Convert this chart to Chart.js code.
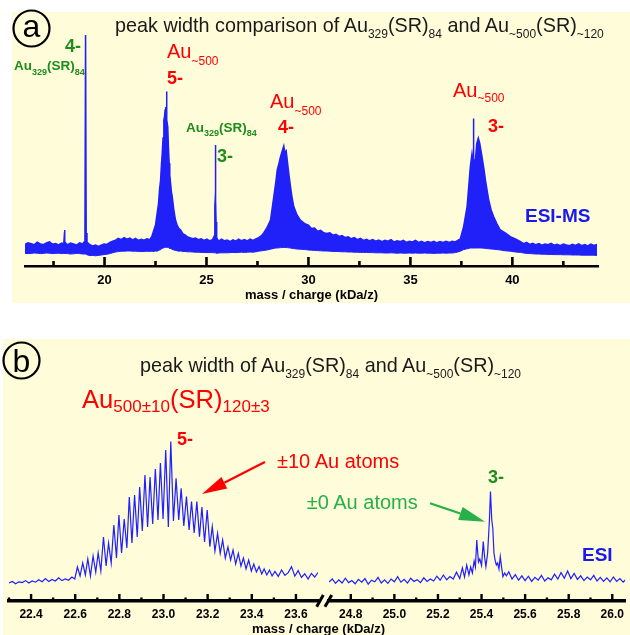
<!DOCTYPE html>
<html>
<head>
<meta charset="utf-8">
<script src="https://cdn.jsdelivr.net/npm/chart.js@4.4.1/dist/chart.umd.min.js"></script>
<style>
  html, body { margin: 0; padding: 0; background: #fff; }
  body { width: 630px; height: 635px; position: relative; overflow: hidden; font-family: "Liberation Sans", Arial, sans-serif; }
  .panel { position: absolute; background: #fffcd9; }
  canvas { position: absolute; }
  svg { position: absolute; left: 0; top: 0; font-family: "Liberation Sans", Arial, sans-serif; }
</style>
</head>
<body>
<div class="panel" style="left:12px;top:12px;width:618px;height:291px"></div>
<div class="panel" style="left:3px;top:339px;width:627px;height:296px"></div>
<canvas id="specA" width="618" height="291" style="left:12px;top:12px"></canvas>
<canvas id="specBL" width="322" height="296" style="left:0;top:339px"></canvas>
<canvas id="specBR" width="308" height="296" style="left:322px;top:339px"></canvas>

<svg width="630" height="635">
  <!-- panel a -->
  <circle cx="31.5" cy="28.5" r="18" fill="none" stroke="#000" stroke-width="2.2"/>
  <text x="31.5" y="37" font-size="32" text-anchor="middle">a</text>
  <text x="115" y="32.3" font-size="19.8" fill="#1a1a1a">peak width comparison of Au<tspan font-size="12" dy="6">329</tspan><tspan dy="-6">(SR)</tspan><tspan font-size="12" dy="6">84</tspan><tspan dy="-6"> and Au</tspan><tspan font-size="12" dy="6">~500</tspan><tspan dy="-6">(SR)</tspan><tspan font-size="12" dy="6">~120</tspan></text>

  <text x="65" y="51.7" font-size="18" font-weight="bold" fill="#1e8c1e">4-</text>
  <text x="14" y="70" font-size="13.5" font-weight="bold" fill="#1e8c1e">Au<tspan font-size="9" dy="4.5">329</tspan><tspan dy="-4.5">(SR)</tspan><tspan font-size="9" dy="4.5">84</tspan></text>

  <text x="167" y="58.3" font-size="20" fill="#ff0000">Au<tspan font-size="12" dy="6.5">~500</tspan></text>
  <text x="167" y="83.5" font-size="18" font-weight="bold" fill="#ff0000">5-</text>

  <text x="186" y="131.7" font-size="13.5" font-weight="bold" fill="#1e8c1e">Au<tspan font-size="9" dy="4.5">329</tspan><tspan dy="-4.5">(SR)</tspan><tspan font-size="9" dy="4.5">84</tspan></text>
  <text x="217" y="162" font-size="18" font-weight="bold" fill="#1e8c1e">3-</text>

  <text x="270" y="108.3" font-size="20" fill="#ff0000">Au<tspan font-size="12" dy="6.5">~500</tspan></text>
  <text x="278" y="133.3" font-size="18" font-weight="bold" fill="#ff0000">4-</text>

  <text x="453" y="96.7" font-size="20" fill="#ff0000">Au<tspan font-size="12" dy="5.5">~500</tspan></text>
  <text x="488" y="131.7" font-size="18" font-weight="bold" fill="#ff0000">3-</text>

  <text x="525" y="222" font-size="19" font-weight="bold" fill="#1a1aee">ESI-MS</text>

  <!-- panel b -->
  <circle cx="21.5" cy="360.5" r="18" fill="none" stroke="#000" stroke-width="2.2"/>
  <text x="21.5" y="371.5" font-size="32" text-anchor="middle">b</text>
  <text x="140" y="372.3" font-size="19.8" fill="#1a1a1a">peak width of Au<tspan font-size="12" dy="5.7">329</tspan><tspan dy="-5.7">(SR)</tspan><tspan font-size="12" dy="5.7">84</tspan><tspan dy="-5.7"> and Au</tspan><tspan font-size="12" dy="5.7">~500</tspan><tspan dy="-5.7">(SR)</tspan><tspan font-size="12" dy="5.7">~120</tspan></text>

  <text x="82" y="408.3" font-size="25.6" fill="#ff0000">Au<tspan font-size="17" dy="3.4">500±10</tspan><tspan dy="-3.4">(SR)</tspan><tspan font-size="17" dy="3.4">120±3</tspan></text>
  <text x="177" y="445" font-size="18" font-weight="bold" fill="#ff0000">5-</text>

  <text x="277" y="468.3" font-size="20" fill="#ff0000">±10 Au atoms</text>
  <line x1="265" y1="462" x2="224.3" y2="482.7" stroke="#ff0000" stroke-width="2.2"/>
  <polygon points="202,494 227.2,488.5 221.4,476.9" fill="#ff0000"/>

  <text x="306.7" y="509.3" font-size="20" fill="#27b04a">±0 Au atoms</text>
  <line x1="430" y1="503.3" x2="460.4" y2="513.5" stroke="#27b04a" stroke-width="2.2"/>
  <polygon points="485,521.7 458.2,520.1 462.6,506.9" fill="#27b04a"/>

  <text x="488" y="483" font-size="18" font-weight="bold" fill="#1e8c1e">3-</text>
  <text x="582" y="561" font-size="19" font-weight="bold" fill="#1a1aee">ESI</text>

  <line x1="316.7" y1="606.7" x2="323.3" y2="595" stroke="#000" stroke-width="3"/>
  <line x1="325" y1="606.7" x2="331.7" y2="595" stroke="#000" stroke-width="3"/>
  <text x="318.5" y="633" font-size="13" font-weight="bold" text-anchor="middle">mass / charge (kDa/z)</text>
</svg>

<script>
// panel a: ESI-MS survey spectrum; the dense noisy trace is drawn as a band (lower / upper edge)
const massA = [16.10, 16.25, 16.40, 16.55, 16.70, 16.85, 17.00, 17.15, 17.30, 17.45, 17.60, 17.75, 17.90, 18.00, 18.02,
  18.04, 18.06, 18.18, 18.33, 18.48, 18.63, 18.78, 18.92, 19.00, 19.04, 19.07, 19.10, 19.14, 19.28, 19.42,
  19.56, 19.70, 19.84, 19.98, 20.12, 20.26, 20.40, 20.54, 20.68, 20.82, 20.96, 21.10, 21.24, 21.38, 21.52,
  21.66, 21.80, 21.94, 22.08, 22.22, 22.32, 22.42, 22.50, 22.58, 22.65, 22.70, 22.75, 22.79, 22.83, 22.87,
  22.91, 22.94, 22.97, 23.00, 23.02, 23.04, 23.06, 23.10, 23.13, 23.17, 23.20, 23.24, 23.28, 23.32, 23.40,
  23.48, 23.56, 23.64, 23.73, 23.85, 23.95, 24.05, 24.18, 24.32, 24.46, 24.60, 24.74, 24.88, 25.02, 25.16,
  25.30, 25.38, 25.41, 25.43, 25.44, 25.45, 25.47, 25.50, 25.60, 25.74, 25.88, 26.02, 26.16, 26.30, 26.44,
  26.58, 26.72, 26.86, 27.00, 27.14, 27.28, 27.42, 27.56, 27.70, 27.82, 27.96, 28.14, 28.30, 28.40, 28.47,
  28.56, 28.63, 28.70, 28.79, 28.85, 28.91, 28.96, 29.04, 29.12, 29.20, 29.28, 29.44, 29.60, 29.85, 30.00,
  30.15, 30.30, 30.45, 30.60, 30.75, 30.90, 31.05, 31.20, 31.35, 31.50, 31.65, 31.80, 31.95, 32.10, 32.25,
  32.40, 32.55, 32.70, 32.85, 33.00, 33.15, 33.30, 33.45, 33.60, 33.75, 33.90, 34.05, 34.20, 34.35, 34.50,
  34.65, 34.80, 34.95, 35.10, 35.25, 35.40, 35.55, 35.70, 35.85, 36.00, 36.15, 36.30, 36.45, 36.60, 36.75,
  36.90, 37.05, 37.20, 37.32, 37.45, 37.61, 37.78, 37.94, 38.02, 38.07, 38.09, 38.11, 38.19, 38.25, 38.33,
  38.40, 38.51, 38.60, 38.68, 38.76, 38.84, 38.96, 39.08, 39.25, 39.41, 39.65, 39.90, 40.15, 40.40, 40.55,
  40.70, 40.85, 41.00, 41.15, 41.30, 41.45, 41.60, 41.75, 41.90, 42.05, 42.20, 42.35, 42.50, 42.65, 42.80,
  42.95, 43.10, 43.25, 43.40, 43.55, 43.70, 43.85, 44.00, 44.15];
const lowerA = [6.3, 6.2, 6.3, 6.5, 6.4, 6.2, 6.3, 6.5, 6.4, 6.2, 6.3, 6.4, 6.2, 6.3, 6.3,
  6.3, 6.3, 6.2, 6.0, 6.1, 6.3, 6.2, 6.0, 6.0, 6.0, 6.0, 6.0, 5.6, 5.2, 5.3,
  5.1, 5.3, 5.5, 5.7, 5.9, 6.2, 6.6, 7.0, 7.2, 7.4, 7.4, 7.5, 7.5, 7.4, 7.4,
  7.3, 7.2, 7.3, 7.4, 7.3, 7.4, 7.3, 7.5, 7.4, 7.8, 8.0, 8.2, 8.5, 8.8, 9.0,
  9.2, 9.3, 9.3, 9.4, 9.4, 9.4, 9.4, 9.3, 9.2, 9.0, 8.8, 8.7, 8.5, 8.3, 8.0,
  7.8, 7.6, 7.4, 7.5, 7.3, 7.3, 7.1, 7.1, 7.0, 6.9, 6.9, 6.8, 6.8, 6.7, 6.7,
  6.7, 6.6, 6.6, 6.6, 6.6, 6.6, 6.5, 6.4, 6.5, 6.6, 6.6, 6.6, 6.7, 6.8, 6.7,
  6.8, 6.9, 6.8, 6.9, 7.0, 6.9, 7.1, 7.4, 7.6, 7.8, 8.0, 8.4, 8.8, 9.0, 9.0,
  9.1, 9.2, 9.2, 9.3, 9.3, 9.2, 9.2, 9.1, 9.0, 8.8, 8.7, 8.5, 8.4, 8.2, 8.0,
  7.9, 7.8, 7.7, 7.6, 7.5, 7.5, 7.4, 7.3, 7.3, 7.2, 7.1, 7.1, 7.0, 7.0, 6.9,
  6.9, 6.8, 6.8, 6.8, 6.7, 6.7, 6.6, 6.6, 6.6, 6.5, 6.5, 6.6, 6.5, 6.4, 6.5,
  6.4, 6.4, 6.5, 6.4, 6.5, 6.4, 6.4, 6.5, 6.4, 6.4, 6.3, 6.4, 6.4, 6.5, 6.4,
  6.5, 6.5, 6.7, 7.0, 7.4, 8.2, 8.6, 9.0, 9.0, 9.0, 9.0, 9.0, 9.0, 9.0, 9.0,
  9.0, 9.0, 8.9, 8.8, 8.7, 8.6, 8.5, 8.4, 8.2, 8.0, 7.6, 7.4, 7.0, 6.8, 6.5,
  6.3, 6.2, 6.1, 6.0, 6.0, 5.9, 5.9, 5.8, 5.8, 5.7, 5.7, 5.7, 5.6, 5.6, 5.6,
  5.5, 5.5, 5.5, 5.4, 5.4, 5.4, 5.4, 5.4, 5.3];
const upperA = [10.8, 11.6, 11.2, 10.6, 11.9, 11.0, 10.7, 11.5, 12.1, 10.9, 11.2, 10.5, 11.4, 11.0, 14.0,
  18.0, 12.0, 10.6, 11.5, 11.0, 10.5, 11.6, 11.0, 12.0, 17.0, 115.5, 16.5, 12.0, 10.6, 10.0,
  10.5, 9.8, 10.4, 11.0, 10.8, 11.8, 12.4, 12.9, 13.8, 13.2, 14.2, 13.4, 13.9, 13.0, 13.8,
  12.8, 13.4, 12.9, 13.6, 13.2, 14.8, 18.0, 20.5, 26.3, 31.5, 38.5, 43.0, 50.5, 56.4, 64.0,
  73.0, 74.5, 78.0, 79.5, 76.0, 87.2, 73.0, 69.7, 60.5, 51.4, 45.5, 41.4, 37.0, 34.7, 28.0,
  23.0, 20.5, 18.8, 18.0, 16.0, 15.6, 14.7, 14.2, 13.6, 14.0, 13.2, 13.6, 12.8, 13.4, 12.6,
  13.2, 15.0, 30.0, 34.0, 60.5, 33.0, 22.0, 14.0, 12.4, 13.4, 12.6, 13.0, 12.2, 13.1, 12.4,
  13.4, 12.6, 13.2, 12.5, 13.4, 12.8, 13.6, 14.2, 15.2, 16.8, 19.0, 23.0, 34.6, 42.0, 48.0,
  51.5, 54.6, 57.0, 60.0, 56.5, 57.5, 53.0, 46.0, 39.7, 34.0, 29.7, 25.5, 23.0, 21.0, 20.4,
  18.8, 19.0, 17.4, 17.8, 16.6, 16.2, 16.6, 15.4, 15.8, 14.8, 15.2, 14.2, 14.6, 13.6, 14.2,
  13.2, 13.8, 12.8, 13.4, 12.6, 13.2, 12.4, 13.0, 12.2, 12.8, 12.4, 13.2, 12.0, 12.6, 12.2,
  12.8, 11.8, 12.4, 12.0, 12.8, 11.8, 12.4, 11.6, 12.2, 11.8, 12.4, 11.6, 12.2, 11.8, 12.4,
  11.8, 12.4, 12.0, 12.8, 13.6, 19.7, 29.7, 49.7, 56.0, 52.0, 73.8, 53.0, 53.0, 61.0, 64.0,
  61.4, 54.7, 49.0, 43.0, 38.0, 33.0, 28.0, 24.7, 21.0, 18.0, 16.5, 14.7, 13.5, 12.2, 11.2,
  11.8, 10.8, 11.4, 10.6, 11.2, 10.4, 11.0, 10.6, 11.3, 10.4, 10.9, 10.2, 11.0, 10.5, 10.1,
  10.8, 10.3, 11.1, 10.2, 10.7, 10.0, 10.9, 10.3, 10.8];
const ticksA = [17.5, 20, 22.5, 25, 27.5, 30, 32.5, 35, 37.5, 40, 42.5];
const labelledA = [20, 25, 30, 35, 40];

// panel b: zoom on the 5- (left) and 3- (right) peaks
const massBL = [22.300, 22.315, 22.330, 22.345, 22.360, 22.375, 22.390, 22.405, 22.420, 22.435, 22.450, 22.465,
  22.480, 22.495, 22.510, 22.525, 22.540, 22.555, 22.570, 22.585, 22.598, 22.610, 22.622, 22.634, 22.646,
  22.657, 22.669, 22.681, 22.693, 22.704, 22.716, 22.728, 22.740, 22.751, 22.763, 22.775, 22.787, 22.798,
  22.810, 22.822, 22.834, 22.845, 22.857, 22.869, 22.881, 22.892, 22.904, 22.916, 22.928, 22.939, 22.951,
  22.963, 22.975, 22.986, 22.998, 23.010, 23.022, 23.033, 23.045, 23.057, 23.069, 23.080, 23.092, 23.104,
  23.116, 23.127, 23.139, 23.151, 23.163, 23.174, 23.186, 23.198, 23.210, 23.221, 23.233, 23.245, 23.257,
  23.268, 23.280, 23.292, 23.304, 23.315, 23.327, 23.339, 23.351, 23.362, 23.374, 23.386, 23.398, 23.409,
  23.421, 23.433, 23.445, 23.456, 23.468, 23.480, 23.492, 23.505, 23.520, 23.535, 23.550, 23.565, 23.580,
  23.595, 23.610, 23.625, 23.640, 23.655, 23.670, 23.685, 23.700];
const countsBL = [9.0, 9.8, 8.6, 9.6, 9.2, 10.2, 9.0, 10.0, 9.4, 10.6, 9.6, 11.2,
  9.8, 10.8, 10.0, 11.6, 10.2, 11.0, 10.4, 12.0, 11.0, 17.0, 12.5, 19.0, 13.0,
  21.0, 12.5, 22.5, 14.5, 24.0, 15.0, 32.0, 17.5, 29.0, 19.0, 38.0, 21.5, 43.0,
  24.0, 41.0, 26.5, 52.0, 29.0, 53.0, 32.0, 57.0, 35.0, 63.0, 37.0, 62.0, 38.5,
  66.0, 40.5, 69.0, 41.0, 75.5, 37.0, 79.7, 40.0, 61.3, 40.5, 56.3, 37.5, 52.2,
  35.5, 49.7, 34.0, 49.7, 32.2, 47.0, 29.5, 45.5, 27.2, 37.2, 25.0, 33.8, 23.8,
  30.5, 21.5, 27.0, 20.5, 25.5, 18.5, 23.8, 17.5, 21.5, 16.0, 20.5, 15.0, 18.5,
  14.5, 17.2, 13.5, 16.0, 13.0, 15.5, 12.5, 14.8, 12.2, 15.5, 12.8, 14.2, 17.2,
  12.4, 15.2, 11.8, 13.6, 11.0, 13.8, 12.0, 14.2];
const massBR = [24.700, 24.715, 24.730, 24.745, 24.760, 24.775, 24.790, 24.805, 24.820, 24.835, 24.850, 24.865,
  24.880, 24.895, 24.910, 24.925, 24.940, 24.955, 24.970, 24.985, 25.000, 25.015, 25.030, 25.045, 25.060,
  25.075, 25.090, 25.105, 25.120, 25.135, 25.150, 25.165, 25.180, 25.195, 25.210, 25.225, 25.240, 25.255,
  25.270, 25.285, 25.300, 25.312, 25.322, 25.332, 25.342, 25.350, 25.358, 25.366, 25.372, 25.378, 25.386,
  25.392, 25.400, 25.408, 25.414, 25.420, 25.428, 25.436, 25.441, 25.447, 25.452, 25.457, 25.462, 25.468,
  25.474, 25.480, 25.486, 25.492, 25.498, 25.506, 25.514, 25.525, 25.540, 25.555, 25.570, 25.585, 25.600,
  25.615, 25.630, 25.645, 25.660, 25.675, 25.690, 25.705, 25.720, 25.735, 25.750, 25.765, 25.780, 25.795,
  25.810, 25.825, 25.840, 25.855, 25.870, 25.885, 25.900, 25.915, 25.930, 25.945, 25.960, 25.975, 25.990,
  26.005, 26.020, 26.035, 26.050, 26.060];
const countsBR = [9.5, 11.0, 8.8, 10.6, 9.0, 11.4, 9.2, 10.2, 8.6, 10.8, 9.4, 11.2,
  8.4, 10.4, 9.6, 11.8, 9.0, 10.6, 8.8, 11.0, 9.6, 12.2, 9.4, 10.8, 9.0,
  11.4, 9.8, 10.6, 9.2, 11.6, 9.8, 11.0, 10.0, 12.4, 10.4, 13.0, 10.6, 12.2,
  11.0, 14.4, 11.2, 16.6, 12.0, 18.0, 13.0, 17.0, 14.0, 20.0, 17.0, 30.5, 19.5,
  21.0, 17.8, 29.7, 22.0, 17.2, 24.0, 40.0, 54.7, 40.5, 36.0, 24.0, 20.5, 18.0,
  19.0, 16.0, 22.2, 17.0, 12.2, 14.0, 12.6, 14.6, 11.0, 13.2, 10.4, 12.6, 10.2,
  12.4, 9.8, 11.8, 10.4, 12.8, 10.0, 11.6, 10.6, 13.4, 11.0, 14.2, 11.4, 15.0,
  11.2, 13.8, 10.8, 12.6, 10.2, 12.0, 10.6, 12.8, 10.0, 11.8, 9.8, 11.6, 9.6,
  12.0, 9.8, 11.2, 9.4, 10.6];
const ticksBL = [22.3, 22.4, 22.5, 22.6, 22.7, 22.8, 22.9, 23.0, 23.1, 23.2, 23.3, 23.4, 23.5, 23.6];
const labelledBL = [22.4, 22.6, 22.8, 23.0, 23.2, 23.4, 23.6];
const ticksBR = [24.8, 24.9, 25.0, 25.1, 25.2, 25.3, 25.4, 25.5, 25.6, 25.7, 25.8, 25.9, 26.0];
const labelledBR = [24.8, 25.0, 25.2, 25.4, 25.6, 25.8, 26.0];

Chart.defaults.font.family = '"Liberation Sans", Arial, sans-serif';

const isIn = (list, v) => list.some(m => Math.abs(m - v) < 1e-6);

// tick marks pointing up into the plot, like the original
function upTicks(list, majors, long, short, width) {
  return {
    id: 'upTicks',
    afterDraw(chart) {
      const s = chart.scales.x, ctx = chart.ctx, y = chart.chartArea.bottom;
      ctx.save();
      ctx.strokeStyle = '#000';
      ctx.lineWidth = width;
      list.forEach(v => {
        const px = s.getPixelForValue(v);
        ctx.beginPath();
        ctx.moveTo(px, y + 1);
        ctx.lineTo(px, y - (isIn(majors, v) ? long : short));
        ctx.stroke();
      });
      ctx.restore();
    }
  };
}

function xAxis(min, max, list, majors, fmt, o) {
  return {
    type: 'linear', min, max,
    afterBuildTicks: s => { s.ticks = list.map(v => ({ value: v })); },
    afterFit: s => { s.height = o.height; },
    grid: { display: false, drawTicks: false, z: 1 },
    border: { display: true, color: '#000', width: o.border, z: 1 },
    ticks: {
      autoSkip: false, maxRotation: 0, padding: o.pad, color: '#000',
      font: { size: o.font, weight: 'bold' },
      callback: v => isIn(majors, v) ? fmt(v) : ''
    },
    title: { display: !!o.title, text: o.title || '', color: '#000', font: { size: 13, weight: 'bold' }, padding: 0 }
  };
}

const base = {
  responsive: false, animation: false, events: [],
  plugins: { legend: { display: false }, tooltip: { enabled: false } }
};

// the band: upper edge filled down to the axis in blue, then the part under the
// lower edge painted back in the panel colour
const blueA = '#2020f8';
const paper = '#fffcd9';
new Chart(document.getElementById('specA'), {
  type: 'line',
  data: {
    datasets: [
      { data: massA.map((x, i) => ({ x, y: lowerA[i] })), borderColor: blueA, backgroundColor: paper, borderWidth: 1, pointRadius: 0, fill: 'origin' },
      { data: massA.map((x, i) => ({ x, y: upperA[i] })), borderColor: blueA, backgroundColor: blueA, borderWidth: 1.5, pointRadius: 0, fill: 'origin' }
    ]
  },
  options: {
    ...base,
    layout: { padding: { left: 13, right: 32, top: 14, bottom: 0 } },
    scales: {
      x: xAxis(16.1, 44.2, ticksA, labelledA, v => String(v), { height: 37, border: 2.5, pad: 7, font: 13, title: 'mass / charge (kDa/z)' }),
      y: { display: false, min: 0, max: 120 }
    }
  },
  plugins: [upTicks(ticksA, labelledA, 9, 5, 2.6)]
});

const blueB = '#1f1fff';
function zoomChart(id, mass, counts, min, max, list, majors, pad) {
  new Chart(document.getElementById(id), {
    type: 'line',
    data: {
      datasets: [{ data: mass.map((x, i) => ({ x, y: counts[i] })), borderColor: blueB, borderWidth: 1.2, pointRadius: 0, tension: 0, fill: false }]
    },
    options: {
      ...base,
      layout: { padding: pad },
      scales: {
        x: xAxis(min, max, list, majors, v => v.toFixed(1), { height: 34, border: 3.5, pad: 6, font: 12 }),
        y: { display: false, min: 0, max: 90 }
      }
    },
    plugins: [upTicks(list, majors, 7, 3.5, 2.4)]
  });
}
zoomChart('specBL', massBL, countsBL, 22.3, 23.7, ticksBL, labelledBL, { left: 9, right: 4, top: 82, bottom: 0 });
zoomChart('specBR', massBR, countsBR, 24.7, 26.06, ticksBR, labelledBR, { left: 7, right: 1, top: 82, bottom: 0 });
</script>
</body>
</html>
